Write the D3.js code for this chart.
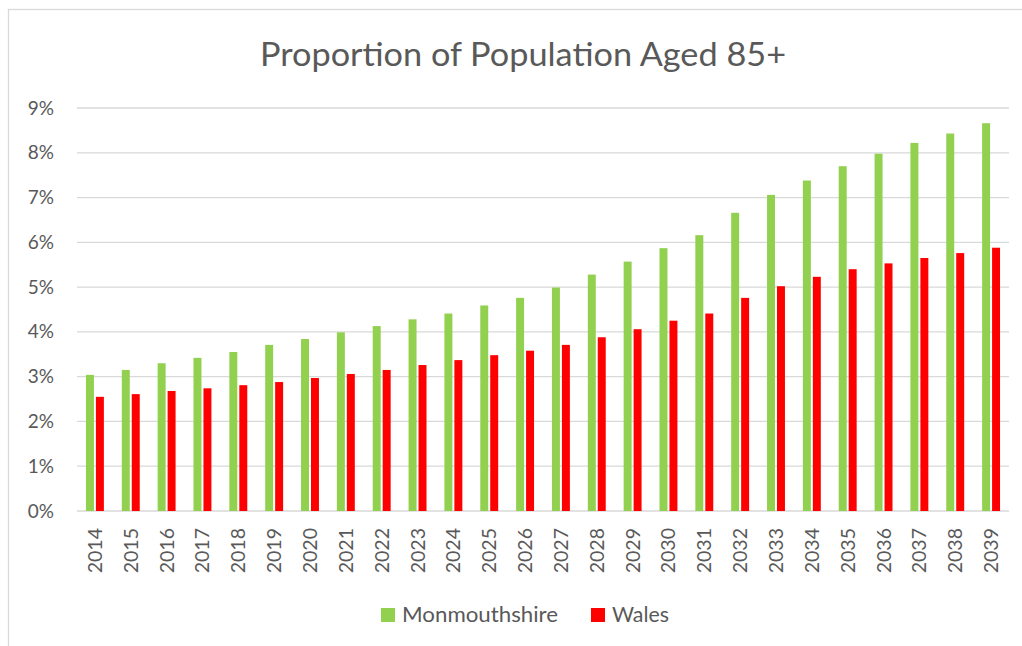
<!DOCTYPE html>
<html>
<head>
<meta charset="utf-8">
<script src="https://cdn.jsdelivr.net/npm/d3@7"></script>
<style>
  body { margin: 0; background: #fff; }
  text { font-family: Lato, "Open Sans", sans-serif; fill: #595959; }
</style>
</head>
<body>
<div id="chart"></div>
<script>
// data
const years = ["2014","2015","2016","2017","2018","2019","2020","2021","2022","2023","2024","2025","2026",
  "2027","2028","2029","2030","2031","2032","2033","2034","2035","2036","2037","2038","2039"];
const monmouthshire = [3.04,3.15,3.30,3.42,3.55,3.71,3.84,3.99,4.13,4.28,4.41,4.59,4.76,
  4.99,5.28,5.57,5.87,6.16,6.66,7.06,7.38,7.70,7.98,8.22,8.43,8.66];
const wales = [2.55,2.61,2.68,2.74,2.81,2.88,2.97,3.06,3.15,3.26,3.37,3.48,3.58,
  3.71,3.88,4.06,4.25,4.41,4.76,5.02,5.23,5.40,5.53,5.65,5.76,5.88];
const seriesNames = ["Monmouthshire", "Wales"];
const yTicks = [0,1,2,3,4,5,6,7,8,9];

const W = 1022, H = 646;
const colors = { "Monmouthshire": "#92d050", "Wales": "#ff0000" };

const rows = years.map((y, i) => ({ year: y, values: [
  { key: "Monmouthshire", v: monmouthshire[i] },
  { key: "Wales", v: wales[i] }
]}));

const svg = d3.select("#chart").append("svg")
  .attr("width", W).attr("height", H);

// chart border
svg.append("rect")
  .attr("x", 8.5).attr("y", 9.5)
  .attr("width", W).attr("height", H)
  .attr("fill", "none").attr("stroke", "#d9d9d9").attr("stroke-width", 1.3);

// Scales
const x0 = d3.scaleBand().domain(years).range([77, 1009]).paddingInner(0.5).paddingOuter(0.25);
const x1 = d3.scaleBand().domain(seriesNames).range([0, x0.bandwidth()]).paddingInner(0.2);
const y = d3.scaleLinear().domain([0, 9]).range([511, 108]);

// Gridlines
svg.append("g")
  .selectAll("line")
  .data(yTicks)
  .join("line")
  .attr("x1", 77).attr("x2", 1009)
  .attr("y1", d => y(d)).attr("y2", d => y(d))
  .attr("stroke", "#d9d9d9").attr("stroke-width", 1.3);

// Y axis labels
const yAxis = svg.append("g")
  .attr("transform", "translate(77,0)")
  .call(d3.axisLeft(y).tickValues(yTicks).tickFormat(d => d + "%").tickSize(0).tickPadding(23));
yAxis.select(".domain").remove();
yAxis.selectAll("text")
  .style("font-size", "19px")
  .style("font-family", "Lato, 'Open Sans', sans-serif")
  .attr("fill", "#595959");

// Bars
svg.append("g")
  .selectAll("g")
  .data(rows)
  .join("g")
  .attr("transform", d => `translate(${x0(d.year)},0)`)
  .selectAll("rect")
  .data(d => d.values)
  .join("rect")
  .attr("x", d => x1(d.key))
  .attr("width", x1.bandwidth())
  .attr("y", d => y(d.v))
  .attr("height", d => y(0) - y(d.v))
  .attr("fill", d => colors[d.key]);

// X axis
const xAxis = svg.append("g")
  .attr("transform", `translate(0,${y(0)})`)
  .call(d3.axisBottom(x0).tickSize(0));
xAxis.select(".domain").remove();
xAxis.selectAll("text")
  .attr("transform", "rotate(-90)")
  .attr("text-anchor", "end")
  .attr("x", -17)
  .attr("y", 0)
  .attr("dy", "0.36em")
  .style("font-size", "19.5px")
  .style("font-family", "Lato, 'Open Sans', sans-serif")
  .attr("fill", "#595959");

// Title
svg.append("text")
  .attr("x", 523)
  .attr("y", 65.5)
  .attr("text-anchor", "middle")
  .attr("textLength", 526)
  .attr("lengthAdjust", "spacingAndGlyphs")
  .style("font-size", "33px")
  .style("font-weight", 400)
  .text("Proportion of Population Aged 85+");

// Legend
const legendPos = [{ name: "Monmouthshire", x: 381, w: 156 }, { name: "Wales", x: 591, w: 57 }];
const legend = svg.append("g");
legendPos.forEach(p => {
  legend.append("rect")
    .attr("x", p.x).attr("y", 608)
    .attr("width", 14).attr("height", 14)
    .attr("fill", colors[p.name]);
  legend.append("text")
    .attr("x", p.x + 21)
    .attr("y", 622)
    .attr("textLength", p.w)
    .attr("lengthAdjust", "spacingAndGlyphs")
    .style("font-size", "21px")
    .text(p.name);
});
</script>
</body>
</html>
